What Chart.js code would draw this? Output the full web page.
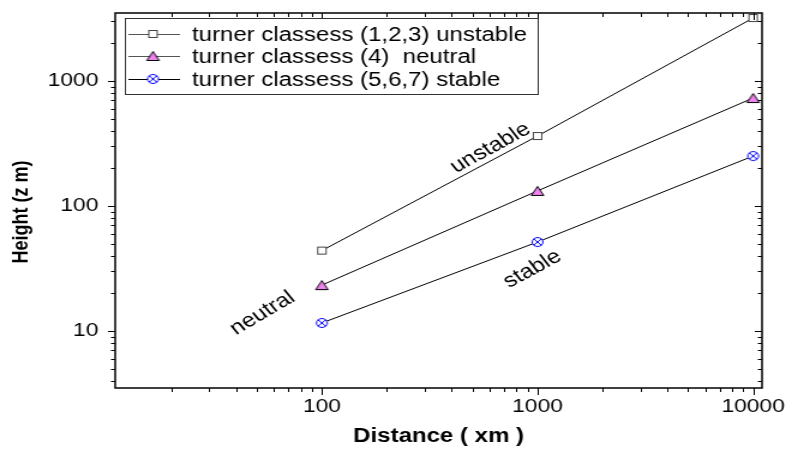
<!DOCTYPE html>
<html>
<head>
<meta charset="utf-8">
<script src="https://cdn.jsdelivr.net/npm/chart.js@4.4.1/dist/chart.umd.min.js"></script>
<style>
  html, body { margin: 0; padding: 0; background: #fff; }
  /* the plot is drawn on a 655px canvas and shown 786px wide */
  #plumeCanvas { display: block; width: 786px; height: 452px; }
</style>
</head>
<body>
<canvas id="plumeCanvas" width="655" height="452" style="width:786px;height:452px"></canvas>
<script>
// plume height against downwind distance for each stability group
const distances = [100, 1000, 10000];
const unstableHeights = [44, 363, 3190];
const neutralHeights = [23.3, 132, 731];
const stableHeights = [11.6, 51.5, 251];

const seriesNames = [
  'turner classess (1,2,3) unstable',
  'turner classess (4)  neutral',
  'turner classess (5,6,7) stable'
];
const xTickValues = [100, 1000, 10000];
const yTickValues = [10, 100, 1000];
const yTitle = 'Height (z m)';

// words written along the curves, placed in data units
const curveNotes = [
  { text: 'unstable', x: 605, y: 291, angle: -33 },
  { text: 'stable', x: 948, y: 31.3, angle: -33 },
  { text: 'neutral', x: 53, y: 13.9, angle: -35 }
];

const FONT = "'Liberation Sans', Arial, sans-serif";

function makeMarker(kind) {
  const c = document.createElement('canvas');
  c.width = 14; c.height = 14;
  const g = c.getContext('2d');
  g.lineWidth = 1;
  if (kind === 'square') {
    g.fillStyle = '#fff';
    g.strokeStyle = '#444';
    g.fillRect(3, 3, 8, 8);
    g.strokeRect(3.5, 3.5, 7, 7);
  } else if (kind === 'triangle') {
    g.fillStyle = '#ee82ee';
    g.strokeStyle = '#000';
    g.beginPath();
    g.moveTo(7, 2.5); g.lineTo(12.2, 11.5); g.lineTo(1.8, 11.5); g.closePath();
    g.fill(); g.stroke();
  } else {
    g.fillStyle = '#fff';
    g.strokeStyle = '#0000ff';
    g.beginPath(); g.arc(7, 7, 4.5, 0, Math.PI * 2); g.fill(); g.stroke();
    g.beginPath();
    g.moveTo(3.8, 3.8); g.lineTo(10.2, 10.2);
    g.moveTo(10.2, 3.8); g.lineTo(3.8, 10.2);
    g.stroke();
  }
  return c;
}

const markers = [makeMarker('square'), makeMarker('triangle'), makeMarker('cross')];

function toPoints(ys) {
  return distances.map((d, i) => ({ x: d, y: ys[i] }));
}

// frame on all four sides with decade and minor ticks
const frameTicks = {
  id: 'frameTicks',
  afterDraw(chart) {
    const { ctx, chartArea: a, scales: { x, y } } = chart;
    const each = (scale, fn) => {
      const lo = Math.floor(Math.log10(scale.min));
      const hi = Math.ceil(Math.log10(scale.max));
      for (let e = lo; e <= hi; e++) {
        for (let k = 1; k < 10; k++) {
          const v = k * Math.pow(10, e);
          if (v < scale.min || v > scale.max) continue;
          fn(scale.getPixelForValue(v), k === 1);
        }
      }
    };
    ctx.save();
    ctx.strokeStyle = '#000';
    ctx.lineWidth = 1;
    ctx.beginPath();
    each(x, (px, major) => {
      const len = major ? 7 : 4;
      px = Math.round(px) + 0.5;
      ctx.moveTo(px, a.bottom); ctx.lineTo(px, a.bottom + len);
      ctx.moveTo(px, a.top); ctx.lineTo(px, a.top + len);
    });
    each(y, (py, major) => {
      const len = major ? 6 : 3.5;
      py = Math.round(py) + 0.5;
      ctx.moveTo(a.left, py); ctx.lineTo(a.left - len, py);
      ctx.moveTo(a.right, py); ctx.lineTo(a.right - len, py);
    });
    ctx.stroke();
    ctx.lineWidth = 1.5;
    ctx.strokeRect(a.left, a.top, a.right - a.left, a.bottom - a.top);
    ctx.restore();
  }
};

const curveLabels = {
  id: 'curveLabels',
  afterDatasetsDraw(chart) {
    const { ctx, scales: { x, y } } = chart;
    ctx.save();
    ctx.fillStyle = '#000';
    ctx.font = `20px ${FONT}`;
    ctx.textAlign = 'center';
    ctx.textBaseline = 'middle';
    curveNotes.forEach(n => {
      ctx.save();
      ctx.translate(x.getPixelForValue(n.x), y.getPixelForValue(n.y));
      ctx.rotate(n.angle * Math.PI / 180);
      ctx.fillText(n.text, 0, 0);
      ctx.restore();
    });
    // vertical axis title, sitting a little below the middle of the axis
    ctx.font = `bold 18px ${FONT}`;
    ctx.translate(18, 212);
    ctx.rotate(-Math.PI / 2);
    ctx.fillText(yTitle, 0, 0);
    ctx.restore();
  }
};

// boxed key in the upper left corner of the plot
const boxedLegend = {
  id: 'boxedLegend',
  afterDraw(chart) {
    const { ctx } = chart;
    const box = { x: 104, y: 18, w: 344, h: 76 };
    const rows = [34, 56, 79];
    ctx.save();
    ctx.fillStyle = '#fff';
    ctx.fillRect(box.x, box.y, box.w, box.h);
    ctx.strokeStyle = '#333';
    ctx.lineWidth = 1;
    ctx.strokeRect(box.x + 0.5, box.y + 0.5, box.w, box.h);
    ctx.font = `20px ${FONT}`;
    ctx.textBaseline = 'middle';
    chart.data.datasets.forEach((ds, i) => {
      const ry = rows[i] + 0.5;
      ctx.strokeStyle = i < 2 ? '#555' : '#000';
      ctx.beginPath();
      ctx.moveTo(107, ry); ctx.lineTo(150, ry);
      ctx.stroke();
      ctx.drawImage(ds.pointStyle, 127.5 - 7, rows[i] - 7);
      ctx.fillStyle = '#000';
      ctx.fillText(ds.label, 160, rows[i] + 1);
    });
    ctx.restore();
  }
};

// keep the plot frame where it is: no extra room for label overhang
function fixX(s) {
  s.height = 64;
  s.paddingLeft = 0;
  s.paddingRight = 0;
}
function fixY(s) {
  s.width = 96;
  s.paddingTop = 0;
  s.paddingBottom = 0;
}

const seriesHeights = [unstableHeights, neutralHeights, stableHeights];

new Chart(
  document.getElementById('plumeCanvas'),
  {
    type: 'scatter',
    plugins: [frameTicks, curveLabels, boxedLegend],
    options: {
      responsive: false,
      devicePixelRatio: 1,
      animation: false,
      layout: { padding: { top: 13, right: 20, left: 0, bottom: 0 } },
      plugins: {
        legend: { display: false },
        tooltip: { enabled: false }
      },
      scales: {
        x: {
          type: 'logarithmic',
          min: 11,
          max: 11000,
          afterBuildTicks: s => { s.ticks = xTickValues.map(v => ({ value: v })); },
          afterFit: fixX,
          grid: { display: false, drawTicks: false },
          border: { display: false },
          ticks: {
            padding: 7,
            color: '#000',
            autoSkip: false,
            maxRotation: 0,
            font: { family: FONT, size: 19 },
            callback: v => String(v)
          },
          title: {
            display: true,
            text: 'Distance ( xm )',
            color: '#000',
            font: { family: FONT, size: 20, weight: 'bold' },
            padding: { top: 4, bottom: 4 }
          }
        },
        y: {
          type: 'logarithmic',
          min: 3.5,
          max: 3500,
          afterBuildTicks: s => { s.ticks = yTickValues.map(v => ({ value: v })); },
          afterFit: fixY,
          grid: { display: false, drawTicks: false },
          border: { display: false },
          ticks: {
            padding: 14,
            color: '#000',
            autoSkip: false,
            font: { family: FONT, size: 19 },
            callback: v => String(v)
          }
        }
      }
    },
    data: {
      datasets: seriesHeights.map((ys, i) => ({
        label: seriesNames[i],
        data: toPoints(ys),
        showLine: true,
        borderColor: '#000',
        borderWidth: 1,
        pointStyle: markers[i],
        pointRadius: 5
      }))
    }
  }
);
</script>
</body>
</html>
